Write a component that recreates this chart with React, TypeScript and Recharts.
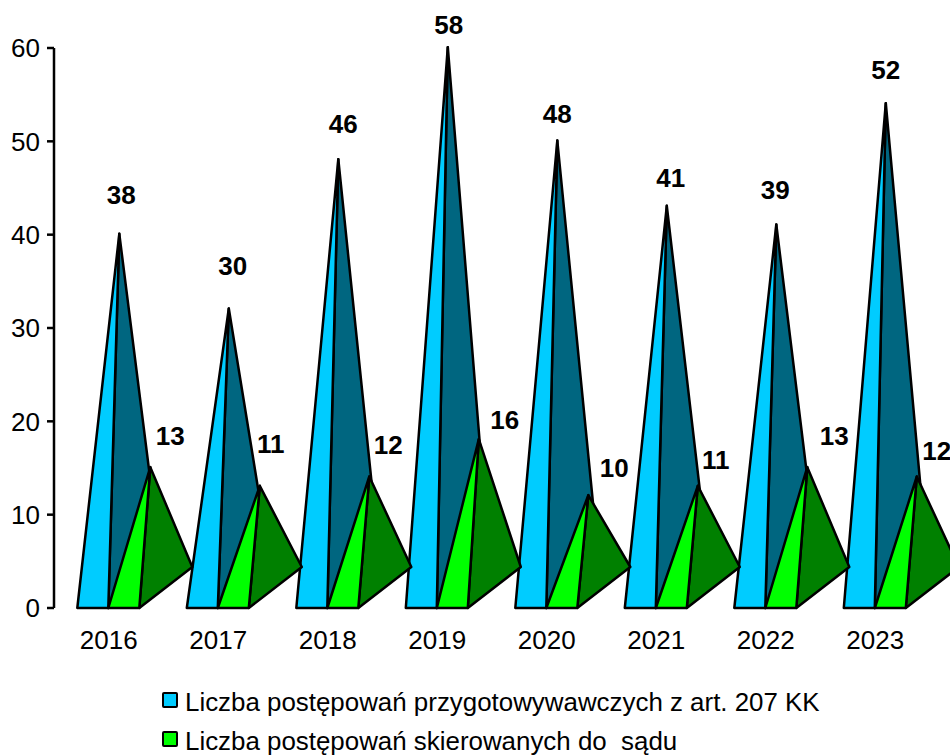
import React from 'react';
import { BarChart, Bar, XAxis, YAxis, LabelList, Legend } from 'recharts';

const years = ['2016', '2017', '2018', '2019', '2020', '2021', '2022', '2023'];
const preparatory = [38, 30, 46, 58, 48, 41, 39, 52];
const referred = [13, 11, 12, 16, 10, 11, 13, 12];
const yTicks = [0, 10, 20, 30, 40, 50, 60];

// hand placed labels in the original, offset from the pyramid apex
const preparatoryLabelShift = [
  [2, -39], [4, -43], [5, -35], [1, -22], [0, -27], [4, -28], [-1, -35], [0, -33],
];
const referredLabelShift = [
  [20, -31], [11, -42], [19, -32], [26, -19], [26, -27], [18, -26], [27, -31], [20, -26],
];

const chartData = years.map((year, i) => ({
  year,
  preparatory: preparatory[i],
  referred: referred[i],
}));

const FONT = '"Liberation Sans", Arial, sans-serif';
const DEPTH_X = 53;
const DEPTH_Y = 41;
const APEX_RISE = 19.5;

const Pyramid = (props: any) => {
  const { x, y, width, height, front, side } = props;
  const base = y + height;
  const apexX = x + width / 2 + DEPTH_X / 2;
  const apexY = y - APEX_RISE;
  const right = x + width;
  return (
    <g stroke="#000" strokeWidth={2.5} strokeLinejoin="round">
      <polygon
        points={`${right},${base} ${right + DEPTH_X},${base - DEPTH_Y} ${apexX},${apexY}`}
        fill={side}
      />
      <polygon points={`${x},${base} ${right},${base} ${apexX},${apexY}`} fill={front} />
    </g>
  );
};

const peakLabel = (shifts: number[][]) => (props: any) => {
  const { x, y, width, index, value } = props;
  const [dx, dy] = shifts[index];
  return (
    <text
      x={x + width / 2 + DEPTH_X / 2 + dx}
      y={y - APEX_RISE + dy}
      textAnchor="middle"
      dominantBaseline="central"
      fontFamily={FONT}
      fontSize={26}
      fontWeight="bold"
      fill="#000"
    >
      {value}
    </text>
  );
};

const LegendBox = ({ payload }: any) => (
  <div style={{ position: 'relative', height: 108, fontFamily: FONT, fontSize: 25.9, color: '#000' }}>
    {(payload || []).map((item: any, i: number) => (
      <div key={item.value} style={{ position: 'absolute', left: 162, top: 44 + i * 39, whiteSpace: 'pre', display: 'flex', alignItems: 'center', height: 16 }}>
        <span
          style={{
            width: 12,
            height: 12,
            border: '2px solid #000',
            borderRadius: 2,
            background: item.color,
            marginRight: 7,
          }}
        />
        <span style={{ position: 'relative', top: 2 }}>{item.value}</span>
      </div>
    ))}
  </div>
);

export default function App() {
  return (
    <div style={{ position: 'absolute', left: 0, top: 0, width: 950, height: 756, overflow: 'hidden' }}>
      <BarChart
        width={950}
        height={756}
        data={chartData}
        margin={{ top: 48, right: 20, bottom: 0, left: 0 }}
        barGap={0}
        barCategoryGap={23.3}
      >
        <XAxis
          dataKey="year"
          axisLine={false}
          tickLine={false}
          height={40}
          tickMargin={17}
          tick={{ fill: '#000', fontSize: 26, fontFamily: FONT }}
        />
        <YAxis
          width={54}
          domain={[0, 60]}
          ticks={yTicks}
          axisLine={{ stroke: '#000', strokeWidth: 2.5 }}
          tickLine={{ stroke: '#000', strokeWidth: 2.5 }}
          tickSize={7}
          tickMargin={7}
          tick={{ fill: '#000', fontSize: 26, fontFamily: FONT }}
        />
        <Legend verticalAlign="bottom" height={108} content={<LegendBox />} wrapperStyle={{ left: 0, width: 950 }} />
        <Bar
          dataKey="preparatory"
          name="Liczba postępowań przygotowywawczych z art. 207 KK"
          fill="#00CCFF"
          isAnimationActive={false}
          shape={<Pyramid front="#00CCFF" side="#006680" />}
        >
          <LabelList dataKey="preparatory" content={peakLabel(preparatoryLabelShift)} />
        </Bar>
        <Bar
          dataKey="referred"
          name="Liczba postępowań skierowanych do  sądu"
          fill="#00FF00"
          isAnimationActive={false}
          shape={<Pyramid front="#00FF00" side="#008000" />}
        >
          <LabelList dataKey="referred" content={peakLabel(referredLabelShift)} />
        </Bar>
      </BarChart>
    </div>
  );
}
